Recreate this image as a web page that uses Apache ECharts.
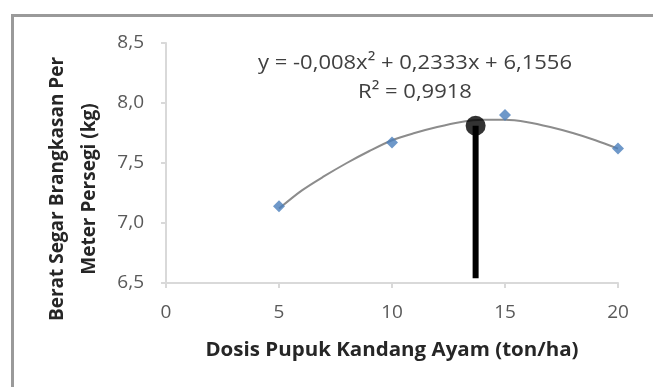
<!DOCTYPE html>
<html>
<head>
<meta charset="utf-8">
<script src="https://cdn.jsdelivr.net/npm/echarts@6/dist/echarts.min.js"></script>
<style>
html,body{margin:0;padding:0;background:#fff;}
#chart{width:653px;height:387px;}
</style>
</head>
<body>
<div id="chart"></div>
<script>
// Data
var doseX = [5, 10, 15, 20];
var weightY = [7.14, 7.67, 7.90, 7.62];
// Trend line (polynomial fit)
var trendX = [5, 6, 7, 8, 9, 10, 11, 12, 13, 14, 15, 16, 17, 18, 19, 20];
var trendY = [7.12, 7.27, 7.39, 7.50, 7.60, 7.69, 7.75, 7.80, 7.84, 7.86, 7.86, 7.84, 7.80, 7.75, 7.69, 7.62];
// Optimum marker
var optX = 13.7;
var optY = 7.81;
var optBase = 6.54;
var xTicks = [0, 5, 10, 15, 20];
var yTicks = [6.5, 7.0, 7.5, 8.0, 8.5];
var equationText = 'y = -0,008x² + 0,2333x + 6,1556';
var r2Text = 'R² = 0,9918';
var xTitle = 'Dosis Pupuk Kandang Ayam (ton/ha)';
var yTitle1 = 'Berat Segar Brangkasan Per';
var yTitle2 = 'Meter Persegi (kg)';

var chart = echarts.init(document.getElementById('chart'), null, {renderer: 'canvas'});
var font = '"Open Sans", "Noto Sans", sans-serif';

function pairs(xs, ys) { return xs.map(function (x, i) { return [x, ys[i]]; }); }

var option = {
  animation: false,
  backgroundColor: '#fff',
  grid: {left: 166, right: 35, top: 43, bottom: 104},
  xAxis: {
    type: 'value', min: xTicks[0], max: xTicks[xTicks.length - 1], interval: 5,
    axisLine: {lineStyle: {color: '#d9d9d9', width: 2}},
    axisTick: {show: true, length: 5, lineStyle: {color: '#d9d9d9', width: 2}},
    axisLabel: {color: '#595959', fontFamily: font, fontSize: 19, margin: 20},
    splitLine: {show: false}
  },
  yAxis: {
    type: 'value', min: yTicks[0], max: yTicks[yTicks.length - 1], interval: 0.5,
    axisLine: {show: true, lineStyle: {color: '#d9d9d9', width: 2}},
    axisTick: {show: true, length: 5, lineStyle: {color: '#d9d9d9', width: 2}},
    axisLabel: {color: '#595959', fontFamily: font, fontSize: 19, margin: 22,
      formatter: function (v) { return v.toFixed(1).replace('.', ','); }},
    splitLine: {show: false}
  },
  graphic: [
    {type: 'rect', shape: {x: 12.5, y: 15.5, width: 700, height: 400},
      style: {fill: 'none', stroke: '#9a9a9a', lineWidth: 3}, silent: true, z: 0},
    {type: 'text', x: 415, y: 63, scaleX: 1.1,
      style: {text: equationText, fill: '#404040', font: '20px ' + font, textAlign: 'center', textVerticalAlign: 'middle'}},
    {type: 'text', x: 415, y: 92, scaleX: 1.1,
      style: {text: r2Text, fill: '#404040', font: '20px ' + font, textAlign: 'center', textVerticalAlign: 'middle'}},
    {type: 'text', x: 392, y: 351, scaleX: 1.08,
      style: {text: xTitle, fill: '#262626', font: 'bold 19px ' + font, textAlign: 'center', textVerticalAlign: 'middle'}},
    {type: 'text', x: 74, y: 189, rotation: Math.PI / 2,
      style: {text: yTitle1 + '\n' + yTitle2, fill: '#262626', font: 'bold 19px ' + font, lineHeight: 32,
        textAlign: 'center', textVerticalAlign: 'middle'}}
  ],
  series: [
    {type: 'line', data: pairs(trendX, trendY), smooth: 0.3, showSymbol: false, symbol: 'none',
      lineStyle: {color: '#8c8c8c', width: 2}, z: 2},
    {type: 'scatter', data: pairs(doseX, weightY), symbol: 'diamond', symbolSize: 12,
      itemStyle: {color: '#4a7ebb'}, z: 3},
    {type: 'line', data: [[optX, optBase], [optX, optY]], showSymbol: false, symbol: 'none',
      lineStyle: {color: '#000', width: 6}, z: 4},
    {type: 'scatter', data: [[optX, optY]], symbol: 'circle', symbolSize: 20,
      itemStyle: {color: '#000'}, z: 5}
  ]
};
chart.setOption(option);
</script>
</body>
</html>
